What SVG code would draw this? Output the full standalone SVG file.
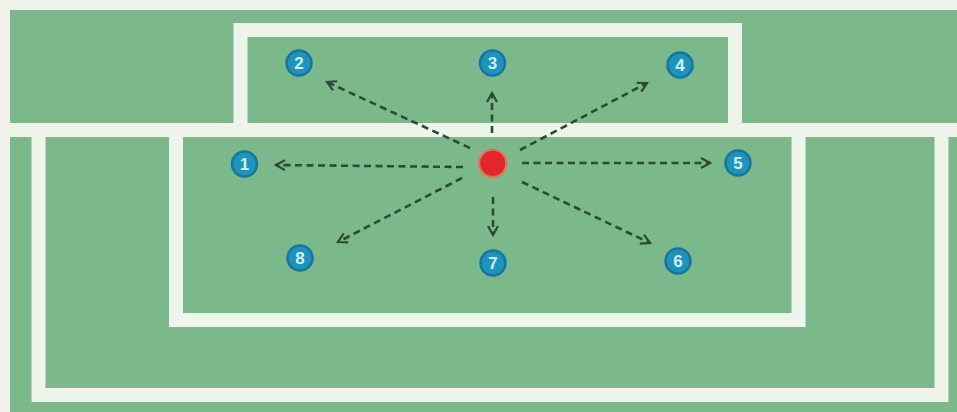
<svg xmlns="http://www.w3.org/2000/svg" width="957" height="412" viewBox="0 0 957 412">
<defs>
<style>
.ln{fill:none;stroke:#eef4ea;stroke-width:14;stroke-linecap:square}
.arr{fill:none;stroke:#2c4a36;stroke-width:2.6;stroke-dasharray:7 4.5;marker-end:url(#ah)}
.pl{fill:#1d93bd;stroke:#15779f;stroke-width:2.5}
.num{font-family:"Liberation Sans",Arial,sans-serif;font-size:17px;font-weight:bold;fill:#d6f1fb;text-anchor:middle}
</style>
<marker id="ah" viewBox="0 0 12 12" refX="10" refY="6" markerWidth="12" markerHeight="12" markerUnits="userSpaceOnUse" orient="auto">
<path d="M1,1 L10,6 L1,11" fill="none" stroke="#2c4a36" stroke-width="2.2"/>
</marker>
</defs>
<rect width="957" height="412" fill="#eef2ea"/>
<rect x="10" y="10" width="947" height="402" fill="#7cb98a"/>
<g id="lines">
<path class="ln" d="M10,130 H957" style="stroke-linecap:butt"/>
<path class="ln" d="M240.5,130 V30 H735 V130"/>
<path class="ln" d="M38.5,130 V395 H941.5 V130"/>
<path class="ln" d="M176,130 V320 H798.5 V130"/>
</g>
<g id="connectors">
<path class="arr" d="M463,167 L276,165"/>
<path class="arr" d="M470,148 L327,82"/>
<path class="arr" d="M492,133 L492,93"/>
<path class="arr" d="M520,150 L647,83"/>
<path class="arr" d="M522,163 L710,163"/>
<path class="arr" d="M522,182 L650,243"/>
<path class="arr" d="M493,197 L493,235"/>
<path class="arr" d="M462,178 L338,242"/>
</g>
<g id="ball"><circle cx="492.7" cy="163.3" r="13.5" fill="#e3262b" stroke="#ef6a4a" stroke-width="2"/></g>
<g id="p1"><circle class="pl" cx="244.5" cy="164" r="12.5"/><text class="num" x="244.5" y="170">1</text></g>
<g id="p2"><circle class="pl" cx="299" cy="63" r="12.5"/><text class="num" x="299" y="69">2</text></g>
<g id="p3"><circle class="pl" cx="492.5" cy="63" r="12.5"/><text class="num" x="492.5" y="69">3</text></g>
<g id="p4"><circle class="pl" cx="680" cy="65" r="12.5"/><text class="num" x="680" y="71">4</text></g>
<g id="p5"><circle class="pl" cx="738" cy="163" r="12.5"/><text class="num" x="738" y="169">5</text></g>
<g id="p6"><circle class="pl" cx="678" cy="261" r="12.5"/><text class="num" x="678" y="267">6</text></g>
<g id="p7"><circle class="pl" cx="493" cy="263" r="12.5"/><text class="num" x="493" y="269">7</text></g>
<g id="p8"><circle class="pl" cx="300" cy="258" r="12.5"/><text class="num" x="300" y="264">8</text></g>
</svg>
